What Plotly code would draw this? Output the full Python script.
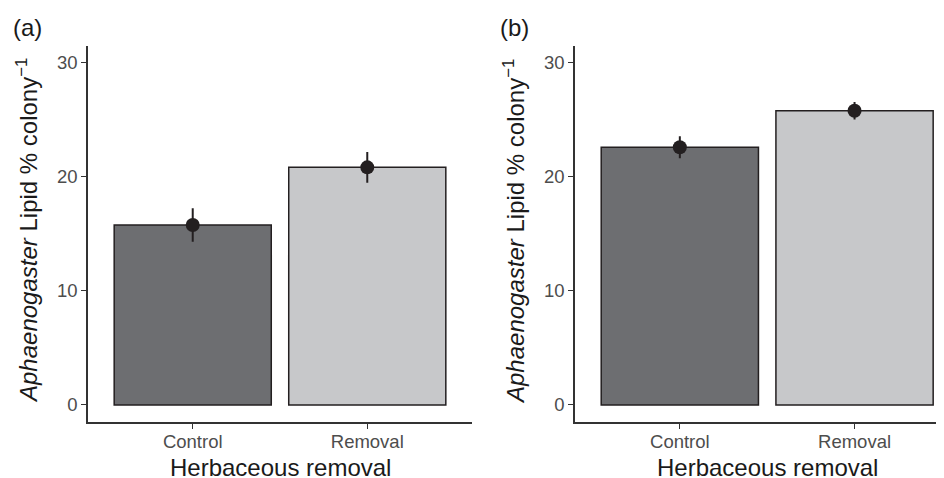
import plotly.graph_objects as go

categories = ["Control", "Removal"]
means_a = [15.76, 20.81]
se_a = [1.46, 1.34]
means_b = [22.57, 25.77]
se_b = [0.97, 0.77]
bar_colors = ["#6d6e71", "#c7c8ca"]
y_ticks = [0, 10, 20, 30]

# page body has an 8px margin, so the figure is placed at (8, 8) in the window
OFF = 8
W, H = 944 - OFF, 478 - OFF
FONT = "Liberation Sans, Arial, sans-serif"


def px(x):
    return (x - OFF) / W


def py(y):
    return 1 - (y - OFF) / H


fig = go.Figure()

panels = [
    ("x", "y", means_a, se_a),
    ("x2", "y2", means_b, se_b),
]
for xa, ya, m, s in panels:
    fig.add_trace(go.Bar(
        x=categories, y=m, xaxis=xa, yaxis=ya, width=0.9,
        marker=dict(color=bar_colors, line=dict(color="#231f20", width=1.5)),
        showlegend=False, hoverinfo="skip",
    ))
    fig.add_trace(go.Scatter(
        x=categories, y=m, xaxis=xa, yaxis=ya, mode="markers",
        marker=dict(color="#231f20", size=14),
        error_y=dict(type="data", array=s, visible=True, color="#231f20",
                     thickness=2, width=0),
        showlegend=False, hoverinfo="skip",
    ))

ydom = [py(422), py(45.7)]
yrange = [-1.49, 31.46]

axis_common = dict(
    showgrid=False, zeroline=False, showline=True, linecolor="#333333",
    linewidth=1.5, ticks="outside", ticklen=5, tickwidth=1.2, tickcolor="#333333",
    tickfont=dict(family=FONT, size=18.5, color="#4d4d4d"),
)

fig.update_layout(
    width=W, height=H,
    margin=dict(l=0, r=0, t=0, b=0),
    paper_bgcolor="white", plot_bgcolor="white",
    font=dict(family=FONT),
    xaxis=dict(domain=[px(88), px(472)], range=[-0.6, 1.6], anchor="y",
               ticklabelstandoff=-3, **axis_common),
    yaxis=dict(domain=ydom, range=yrange, anchor="x", tickvals=y_ticks, **axis_common),
    xaxis2=dict(domain=[px(575), 1.0], range=[-0.6, 1.512], anchor="y2",
                ticklabelstandoff=-3, **axis_common),
    yaxis2=dict(domain=ydom, range=yrange, anchor="x2", tickvals=y_ticks, **axis_common),
)

title_font = dict(family=FONT, size=24, color="#1a1a1a")
ytitle = "<i>Aphaenogaster</i> Lipid % colony<sup>−1</sup>"
annots = [
    dict(text="Herbaceous removal", x=px(280), y=py(467)),
    dict(text="Herbaceous removal", x=px(767), y=py(467)),
    dict(text=ytitle, x=px(27), y=py(231), textangle=-90),
    dict(text=ytitle, x=px(514), y=py(231), textangle=-90),
    dict(text="(a)", x=px(27), y=py(28)),
    dict(text="(b)", x=px(515), y=py(28)),
]
for a in annots:
    fig.add_annotation(xref="paper", yref="paper", xanchor="center", yanchor="middle",
                       showarrow=False, font=title_font, **a)

fig.write_html("out.html")
